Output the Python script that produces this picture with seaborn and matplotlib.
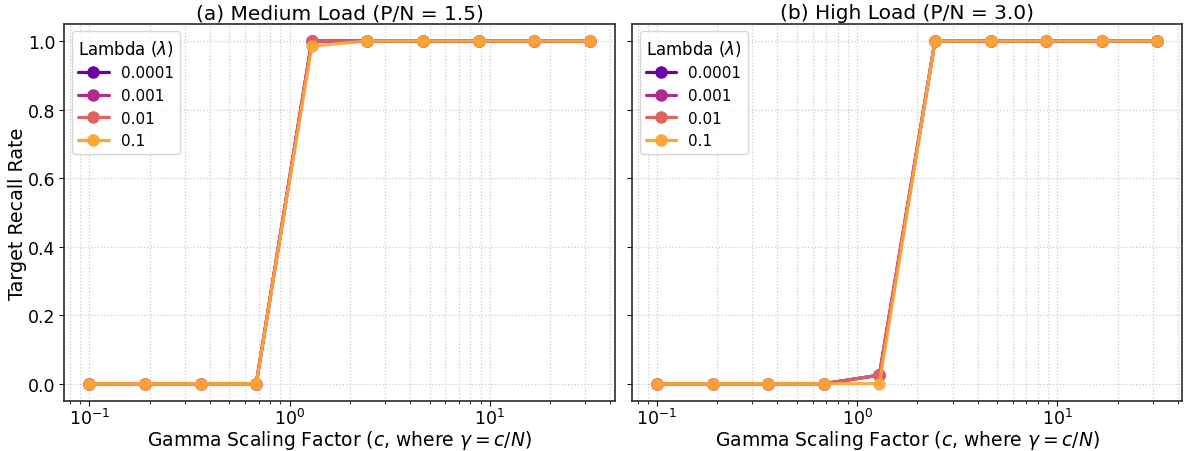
import numpy as np
import pandas as pd
import matplotlib
matplotlib.use("Agg")
import matplotlib.pyplot as plt
import seaborn as sns

# Gamma scaling factors c (log-spaced sweep)
c_values = [0.1, 0.1896, 0.3594, 0.6813, 1.2915, 2.4484, 4.6416, 8.7992, 16.681, 31.623]
lambdas = ["0.0001", "0.001", "0.01", "0.1"]

# Target recall rate, medium load (P/N = 1.5)
medium_0001 = [0, 0, 0, 0, 1.0, 1, 1, 1, 1, 1]
medium_001 = [0, 0, 0, 0, 1.0, 1, 1, 1, 1, 1]
medium_01 = [0, 0, 0, 0, 1.0, 1, 1, 1, 1, 1]
medium_1 = [0, 0, 0, 0, 0.985, 1, 1, 1, 1, 1]

# Target recall rate, high load (P/N = 3.0)
high_0001 = [0, 0, 0, 0, 0.025, 1, 1, 1, 1, 1]
high_001 = [0, 0, 0, 0, 0.025, 1, 1, 1, 1, 1]
high_01 = [0, 0, 0, 0, 0.025, 1, 1, 1, 1, 1]
high_1 = [0, 0, 0, 0, 0.0, 1, 1, 1, 1, 1]


def to_frame(series):
    rows = []
    for lam, vals in zip(lambdas, series):
        for c, v in zip(c_values, vals):
            rows.append({"c": c, "recall": v, "lambda": lam})
    return pd.DataFrame(rows)


df_medium = to_frame([medium_0001, medium_001, medium_01, medium_1])
df_high = to_frame([high_0001, high_001, high_01, high_1])

sns.set_theme(style="ticks")
plt.rcParams["font.family"] = ["DejaVu Sans"]
plt.rcParams.update({
    "text.color": "black",
    "axes.labelcolor": "black",
    "xtick.color": "black",
    "ytick.color": "black",
    "axes.edgecolor": "#333333",
    "xtick.major.size": 3.5,
    "ytick.major.size": 3.5,
    "xtick.minor.size": 2,
    "ytick.minor.size": 2,
    "xtick.major.pad": 1.5,
    "xtick.minor.pad": 1.5,
    "ytick.major.pad": 3.0,
    "xtick.major.width": 0.8,
    "ytick.major.width": 0.8,
    "xtick.minor.width": 0.6,
})
palette = sns.color_palette("plasma", len(lambdas))

fig, axes = plt.subplots(1, 2, figsize=(11.92, 4.52), dpi=100, sharey=True)
fig.subplots_adjust(left=0.054, right=0.992, top=0.945, bottom=0.111, wspace=0.031)

panels = [
    (axes[0], df_medium, "(a) Medium Load (P/N = 1.5)"),
    (axes[1], df_high, "(b) High Load (P/N = 3.0)"),
]

for ax, df, title in panels:
    sns.lineplot(
        data=df, x="c", y="recall", hue="lambda", hue_order=lambdas,
        palette=palette, marker="o", markersize=9, linewidth=2.3,
        alpha=0.9, markeredgecolor="none", ax=ax,
    )
    ax.set_xscale("log")
    ax.set_title(title, fontsize=14.5, pad=4)
    ax.set_xlabel(r"Gamma Scaling Factor ($c$, where $\gamma = c/N$)",
                  fontsize=13.5, labelpad=0.3)
    ax.set_ylabel("Target Recall Rate", fontsize=13.8, labelpad=0.5)
    ax.tick_params(axis="both", labelsize=12.5)
    ax.grid(True, which="both", linestyle=":", color="#cccccc", linewidth=0.9)
    leg = ax.legend(title=r"Lambda ($\lambda$)", loc="upper left",
                    fontsize=11, title_fontsize=12, frameon=True)
    for line in leg.get_lines():
        line.set_alpha(1.0)

fig.savefig("out.png", dpi=100)
